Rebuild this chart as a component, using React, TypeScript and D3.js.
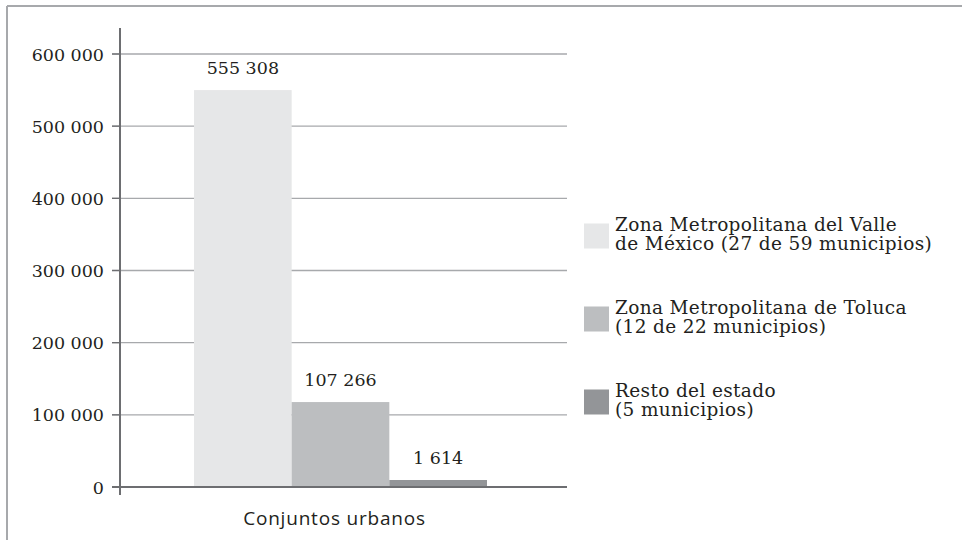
import { scaleBand, scaleLinear, formatLocale } from "d3"

const categories = ["Conjuntos urbanos"]
const series = [
  "Zona Metropolitana del Valle|de México (27 de 59 municipios)",
  "Zona Metropolitana de Toluca|(12 de 22 municipios)",
  "Resto del estado|(5 municipios)",
]
// bar heights as drawn in the picture
const values = [550000, 117700, 9700]
// printed value labels
const valueLabels = ["555 308", "107 266", "1 614"]
const yTickValues = [0, 100000, 200000, 300000, 400000, 500000, 600000]
const colors = ["#e6e7e8", "#bcbec0", "#939598"]

const W = 962, H = 540
const SERIF = "'DejaVu Serif', serif"
const SANS = "'Open Sans', sans-serif"

const fmt = formatLocale({ decimal: ",", thousands: " ", grouping: [3], currency: ["", ""] }).format(",")

export default function App() {
  const y = scaleLinear().domain([0, 600000]).range([487, 54])
  const x0 = scaleBand().domain(categories).range([120, 561]).paddingInner(0).paddingOuter(0.2526)
  const x1 = scaleBand().domain(series).range([0, x0.bandwidth()])

  const axisX = 120, gridEnd = 567

  return (
    <div style={{ position: "absolute", left: 0, top: 0 }}>
      <svg width={W} height={H} style={{ display: "block" }}>
        <rect width={W} height={H} fill="#fff" />
        {/* frame */}
        <line x1={7} x2={W} y1={6} y2={6} stroke="#a7a9ac" strokeWidth={2} />
        <line x1={7} x2={7} y1={6} y2={H} stroke="#a7a9ac" strokeWidth={2} />

        {/* grid + ticks */}
        {yTickValues.map(t => (
          <g key={t}>
            {t > 0 && <line x1={112} x2={gridEnd} y1={y(t)} y2={y(t)} stroke="#a7a9ac" strokeWidth={1.3} />}
            <line x1={112} x2={axisX} y1={y(t)} y2={y(t)} stroke="#6d6e71" strokeWidth={1.3} />
            <text x={104} y={y(t) + 6.5} textAnchor="end" fontFamily={SERIF} fontSize={17.5} fill="#231f20">
              {fmt(t)}
            </text>
          </g>
        ))}

        {/* bars */}
        {categories.map(c => (
          <g key={c} transform={`translate(${x0(c)},0)`}>
            {series.map((s, i) => (
              <g key={s}>
                <rect x={x1(s)} y={y(values[i])} width={x1.bandwidth()} height={y(0) - y(values[i])} fill={colors[i]} />
                <text x={x1(s)! + x1.bandwidth() / 2} y={y(values[i]) - 16} textAnchor="middle"
                  fontFamily={SERIF} fontSize={17.5} fill="#231f20">{valueLabels[i]}</text>
              </g>
            ))}
            <text x={x0.bandwidth() / 2 - 6} y={525} textAnchor="middle" fontFamily={SANS} fontSize={19}
              letterSpacing={0.8} fill="#231f20">{c}</text>
          </g>
        ))}

        {/* axes */}
        <line x1={axisX} x2={axisX} y1={28} y2={495} stroke="#6d6e71" strokeWidth={2} />
        <line x1={112} x2={gridEnd} y1={y(0)} y2={y(0)} stroke="#6d6e71" strokeWidth={2} />

        {/* legend */}
        {series.map((s, i) => {
          const cy = 236 + i * 83
          const lines = s.split("|")
          return (
            <g key={s}>
              <rect x={584} y={cy - 12.5} width={25} height={25} fill={colors[i]} />
              {lines.map((l, j) => (
                <text key={j} x={615} y={cy - 5 + j * 19} fontFamily={SERIF} fontSize={18.5}
                  letterSpacing={0.35} fill="#231f20">{l}</text>
              ))}
            </g>
          )
        })}
      </svg>
    </div>
  )
}
